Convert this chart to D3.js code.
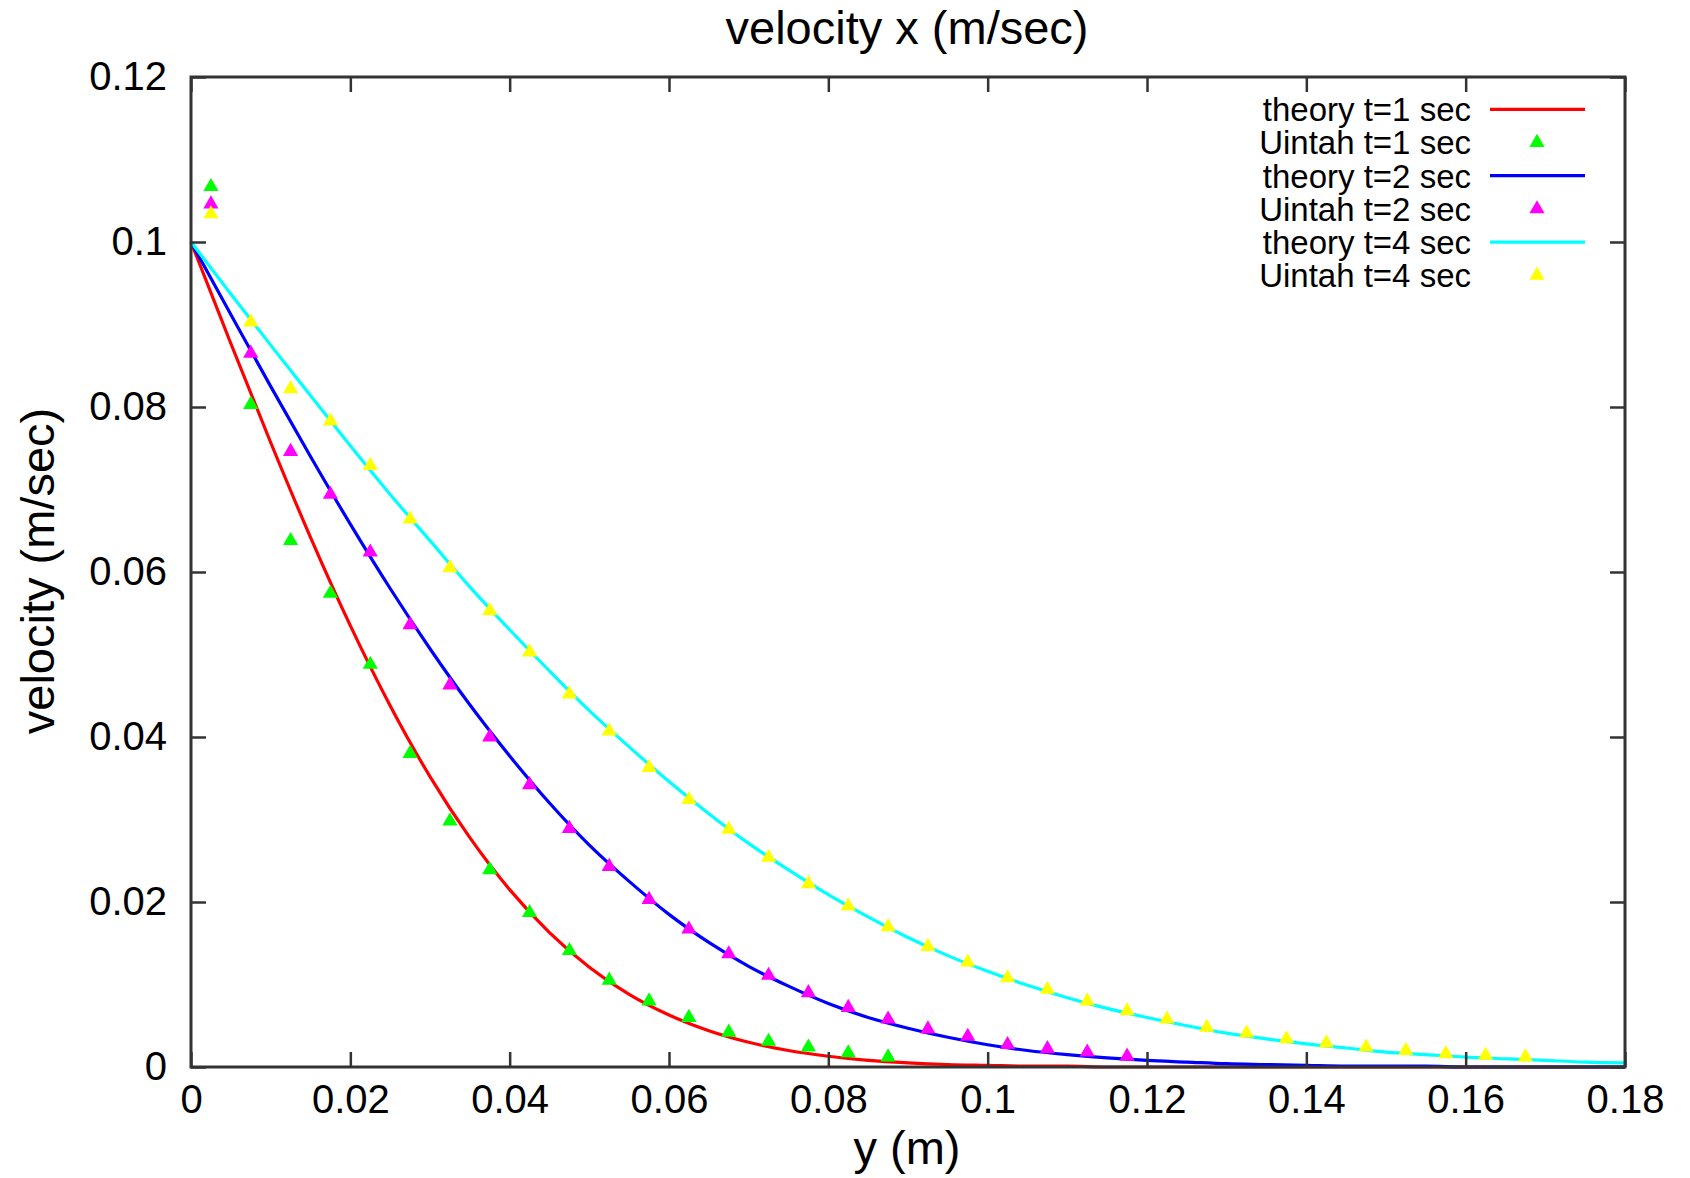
<!DOCTYPE html>
<html><head><meta charset="utf-8">
<script src="https://cdn.jsdelivr.net/npm/d3@7/dist/d3.min.js"></script>
<style>
html,body{margin:0;padding:0;background:#fff;}
text{font-family:"Liberation Sans",Arial,Helvetica,sans-serif;fill:#000;}
</style></head>
<body><svg id="chart" width="1690" height="1178"></svg>
<script>
const xTicks = [0,0.02,0.04,0.06,0.08,0.1,0.12,0.14,0.16,0.18];
const xTickLabels = ["0","0.02","0.04","0.06","0.08","0.1","0.12","0.14","0.16","0.18"];
const yTicks = [0,0.02,0.04,0.06,0.08,0.1,0.12];
const yTickLabels = ["0","0.02","0.04","0.06","0.08","0.1","0.12"];

const xTheory = [0,0.005,0.01,0.015,0.02,0.025,0.03,0.035,0.04,0.045,0.05,0.055,0.06,0.065,0.07,0.075,0.08,0.085,0.09,0.095,0.1,0.105,0.11,0.115,0.12,0.125,0.13,0.135,0.14,0.145,0.15,0.155,0.16,0.165,0.17,0.175,0.18];
const theory1 = [0.1,0.0877,0.0757,0.0642,0.0535,0.0438,0.0352,0.0278,0.0215,0.0163,0.0121,0.0088,0.0063,0.0044,0.0030,0.0020,0.0013,0.0008,0.0005,0.0003,0.0002,0.0001,0.0001,0,0,0,0,0,0,0,0,0,0,0,0,0,0];
const theory2 = [0.1,0.0912,0.0825,0.0740,0.0658,0.0580,0.0507,0.0439,0.0377,0.0320,0.0269,0.0225,0.0185,0.0151,0.0122,0.0098,0.0077,0.0060,0.0047,0.0036,0.0027,0.0020,0.0015,0.0011,0.0008,0.0006,0.0004,0.0003,0.0002,0.0001,0.0001,0.0001,0,0,0,0,0];
const theory4 = [0.1,0.0937,0.0875,0.0814,0.0753,0.0694,0.0638,0.0582,0.0530,0.0480,0.0432,0.0388,0.0346,0.0307,0.0271,0.0239,0.0209,0.0182,0.0157,0.0135,0.0116,0.0099,0.0084,0.0071,0.0060,0.0050,0.0041,0.0034,0.0028,0.0023,0.0018,0.0015,0.0012,0.0010,0.0008,0.0006,0.0005];

const xUintah = [0.0025,0.0075,0.0125,0.0175,0.0225,0.0275,0.0325,0.0375,0.0425,0.0475,0.0525,0.0575,0.0625,0.0675,0.0725,0.0775,0.0825,0.0875,0.0925,0.0975,0.1025,0.1075,0.1125,0.1175,0.1225,0.1275,0.1325,0.1375,0.1425,0.1475,0.1525,0.1575,0.1625,0.1675];
const uintah1 = [0.1067,0.0803,0.0638,0.0574,0.0488,0.0380,0.0298,0.0239,0.0187,0.0141,0.0105,0.0080,0.0060,0.0042,0.0031,0.0024,0.0017,0.0012];
const uintah2 = [0.1046,0.0865,0.0746,0.0694,0.0624,0.0536,0.0463,0.0400,0.0342,0.0289,0.0243,0.0203,0.0167,0.0137,0.0111,0.0090,0.0072,0.0058,0.0046,0.0037,0.0027,0.0022,0.0018,0.0013];
const uintah4 = [0.1034,0.0903,0.0822,0.0783,0.0729,0.0664,0.0605,0.0553,0.0503,0.0452,0.0407,0.0363,0.0324,0.0288,0.0254,0.0222,0.0195,0.0170,0.0146,0.0127,0.0108,0.0094,0.0080,0.0068,0.0058,0.0048,0.0041,0.0034,0.0029,0.0024,0.0020,0.0016,0.0014,0.0012];

const seriesNames = ["theory t=1 sec","Uintah t=1 sec","theory t=2 sec","Uintah t=2 sec","theory t=4 sec","Uintah t=4 sec"];
const seriesColors = ["#ff0000","#00ff00","#0000ff","#ff00ff","#00ffff","#ffff00"];

const svg = d3.select("#chart");
const L = 191, R = 1625, T = 77, B = 1067;
const x = d3.scaleLinear().domain([0,0.18]).range([L,R]);
const y = d3.scaleLinear().domain([0,0.12]).range([B,T]);
const tickLen = 15;
const axisColor = "#333";

// Series
const theories = [theory1, theory2, theory4];
const uintahs = [uintah1, uintah2, uintah4];
const line = d3.line().curve(d3.curveMonotoneX);
const sym = d3.symbol().type(d3.symbolTriangle).size(100);
const gData = svg.append("g");
for (let s = 0; s < 3; s++) {
  const pts = xTheory.map((xv,i)=>[x(xv), y(theories[s][i])]);
  gData.append("path").attr("d", line(pts)).attr("fill","none")
    .attr("stroke", seriesColors[2*s]).attr("stroke-width",3.2);
  gData.selectAll(null).data(uintahs[s]).enter().append("path")
    .attr("d", sym)
    .attr("transform",(d,i)=>`translate(${x(xUintah[i])},${y(d)})`)
    .attr("fill", seriesColors[2*s+1]);
}

// Frame and ticks
const gAx = svg.append("g");
gAx.append("rect").attr("x",L).attr("y",T).attr("width",R-L).attr("height",B-T)
  .attr("fill","none").attr("stroke",axisColor).attr("stroke-width",3);

const xAxisB = d3.axisBottom(x).tickValues(xTicks).tickSize(-tickLen).tickPadding(18)
  .tickFormat((d,i)=>xTickLabels[i]);
const gxb = gAx.append("g").attr("transform",`translate(0,${B})`).call(xAxisB);
const xAxisT = d3.axisTop(x).tickValues(xTicks).tickSize(-tickLen).tickFormat("");
const gxt = gAx.append("g").attr("transform",`translate(0,${T})`).call(xAxisT);
const yAxisL = d3.axisLeft(y).tickValues(yTicks).tickSize(-tickLen).tickPadding(24)
  .tickFormat((d,i)=>yTickLabels[i]);
const gyl = gAx.append("g").attr("transform",`translate(${L},0)`).call(yAxisL);
const yAxisR = d3.axisRight(y).tickValues(yTicks).tickSize(-tickLen).tickFormat("");
const gyr = gAx.append("g").attr("transform",`translate(${R},0)`).call(yAxisR);
[gxb,gxt,gyl,gyr].forEach(g=>{
  g.select(".domain").remove();
  g.selectAll(".tick line").attr("stroke",axisColor).attr("stroke-width",2.5);
  g.selectAll(".tick text").attr("font-size",40).attr("font-family","Liberation Sans, Arial, sans-serif").attr("fill","#000");
});
gxb.selectAll(".tick text").attr("dy","0.71em");

// Title and axis labels
svg.append("text").attr("x",907).attr("y",44).attr("text-anchor","middle")
  .attr("font-size",47).text("velocity x (m/sec)");
svg.append("text").attr("x",907).attr("y",1164).attr("text-anchor","middle")
  .attr("font-size",47).text("y (m)");
svg.append("text").attr("transform","translate(54,571) rotate(-90)").attr("text-anchor","middle")
  .attr("font-size",47).text("velocity (m/sec)");

// Legend
const gLeg = svg.append("g");
const rowY0 = 109.3, rowH = 33.2;
seriesNames.forEach((name,i)=>{
  const cy = rowY0 + i*rowH;
  gLeg.append("text").attr("x",1471).attr("y",cy).attr("dy","0.36em")
    .attr("text-anchor","end").attr("font-size",33).text(name);
  if (i % 2 === 0) {
    gLeg.append("line").attr("x1",1490).attr("x2",1585).attr("y1",cy).attr("y2",cy)
      .attr("stroke",seriesColors[i]).attr("stroke-width",3.2);
  } else {
    gLeg.append("path").attr("d",sym).attr("transform",`translate(1537,${cy})`)
      .attr("fill",seriesColors[i]);
  }
});
</script>
</body></html>
